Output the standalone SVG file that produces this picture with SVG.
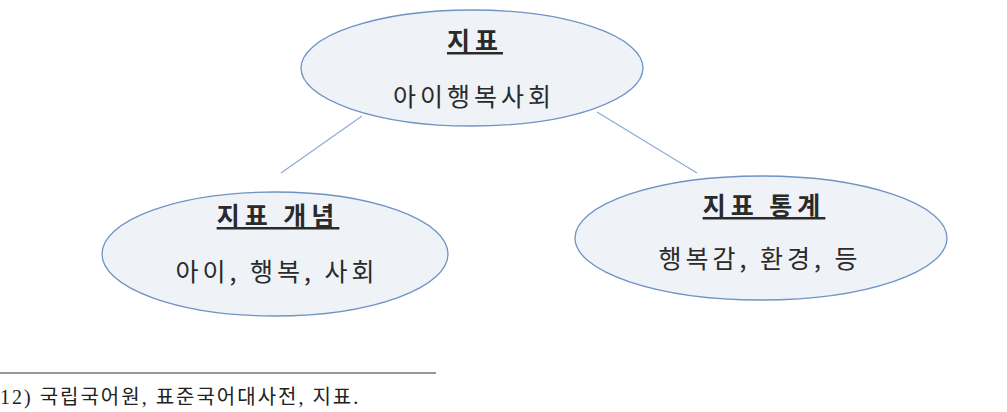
<svg xmlns="http://www.w3.org/2000/svg" width="1007" height="412" viewBox="0 0 1007 412">
<style>
.node ellipse{fill:#eff2f6;stroke:#6f93c4;stroke-width:1.3}
.t{font-family:"Noto Sans CJK KR","Noto Sans",sans-serif;font-size:25px;fill:#2a2a2a;text-anchor:middle;letter-spacing:4px}
.h{font-weight:bold;text-decoration:underline;letter-spacing:5px}
.conn line{stroke:#8eaad6;stroke-width:1.2}
.fn{font-family:"Liberation Serif","Noto Sans CJK KR",serif;font-size:20px;fill:#222;letter-spacing:2px}
</style>
<rect width="1007" height="412" fill="#fff"/>
<g class="conn">
<line x1="362" y1="116" x2="281" y2="173"/>
<line x1="597" y1="112" x2="697" y2="173"/>
</g>
<g id="n-root" class="node">
<ellipse cx="472" cy="68" rx="171" ry="58"/>
<text class="t h" x="475" y="50">지표</text>
<text class="t" x="474" y="106">아이행복사회</text>
</g>
<g id="n-concept" class="node">
<ellipse cx="275" cy="254" rx="173" ry="62"/>
<text class="t h" x="278" y="225">지표 개념</text>
<text class="t" x="277" y="281">아이, 행복, 사회</text>
</g>
<g id="n-stats" class="node">
<ellipse cx="761" cy="238" rx="186" ry="62"/>
<text class="t h" x="764" y="215">지표 통계</text>
<text class="t" x="760" y="268">행복감, 환경, 등</text>
</g>
<line x1="0" y1="373" x2="436" y2="373" stroke="#333" stroke-width="1.2"/>
<text class="fn" x="0" y="404">12) 국립국어원, 표준국어대사전, 지표.</text>
</svg>
